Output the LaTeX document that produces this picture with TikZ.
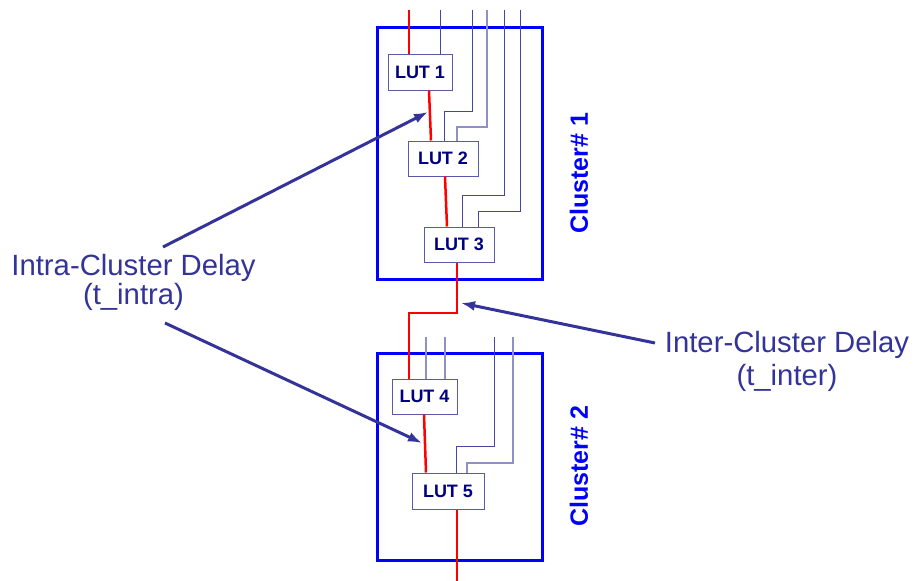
\documentclass[tikz,border=0pt]{standalone}
\usepackage{fontspec}
\setmainfont{Liberation Sans}
\usetikzlibrary{arrows.meta}
\definecolor{navytext}{HTML}{333399}
\definecolor{lutnavy}{HTML}{000080}
\definecolor{lutborder}{HTML}{5A5AA8}
\definecolor{wirec}{HTML}{4646A0}
\definecolor{wirelight}{HTML}{9090C4}
\definecolor{clblue}{HTML}{0000FF}
\tikzset{
  lut/.style={draw=lutborder, line width=1pt, fill=white, inner sep=0pt,
    font=\fontsize{18}{21}\selectfont\bfseries, text=lutnavy},
  clbox/.style={draw=clblue, line width=3pt, inner sep=0pt},
  cllabel/.style={rotate=90, text=clblue, inner sep=0pt,
    font=\fontsize{25}{30}\selectfont\bfseries},
  sig/.style={draw=red, line width=2.5pt},
  wire/.style={draw=wirec, line width=1pt},
  wirel/.style={draw=wirelight, line width=1.2pt},
  callout/.style={draw=navytext, line width=3pt,
    -{Latex[length=14pt,width=10pt]}},
  lbl/.style={text=navytext, inner sep=0pt, anchor=base,
    font=\fontsize{29.3}{35}\selectfont}
}
\begin{document}
\begin{tikzpicture}[x=1pt,y=-1pt]
\useasboundingbox (0,0) rectangle (914,581);
% cluster boxes
\node[clbox, minimum width=165pt, minimum height=252pt] (cl1) at (459.5,153) {};
\node[clbox, minimum width=165pt, minimum height=207pt] (cl2) at (459.5,456.5) {};
\node[cllabel] (cl1l) at (579,173.5) {Cluster\# 1};
\node[cllabel] (cl2l) at (579,466.5) {Cluster\# 2};
% LUTs
\node[lut, minimum width=64pt, minimum height=36pt] (LUT1) at (420,72) {LUT 1};
\node[lut, minimum width=70pt, minimum height=35pt] (LUT2) at (443,158.5) {LUT 2};
\node[lut, minimum width=70pt, minimum height=35pt] (LUT3) at (459,244.5) {LUT 3};
\node[lut, minimum width=65pt, minimum height=35pt] (LUT4) at (424.5,396.5) {LUT 4};
\node[lut, minimum width=72pt, minimum height=36pt] (LUT5) at (448,491) {LUT 5};
% top wire ends
\coordinate (r0) at (409,10);
\coordinate (a1) at (440,10);
\coordinate (a2) at (472,10);
\coordinate (a3) at (487,10);
\coordinate (a4) at (504,10);
\coordinate (a5) at (520,10);
\coordinate (b1) at (426,337);
\coordinate (b2) at (445,337);
\coordinate (b3) at (494,337);
\coordinate (b4) at (513,337);
\coordinate (rend) at (457,581);
% wires cluster 1
\draw[wire] (a1) -- ([xshift=20pt]LUT1.north);
\draw[wire] ([xshift=1pt]LUT2.north) |- (472,111) -- (a2);
\draw[wirel] ([xshift=14pt]LUT2.north) |- (487,127) -- (a3);
\draw[wire] ([xshift=3pt]LUT3.north) |- (504,195) -- (a4);
\draw[wire] ([xshift=19pt]LUT3.north) |- (520,211) -- (a5);
% wires cluster 2
\draw[wirel] (b1) -- ([xshift=1.5pt]LUT4.north);
\draw[wirel] (b2) -- ([xshift=20.5pt]LUT4.north);
\draw[wire] ([xshift=8pt]LUT5.north) |- (494,446) -- (b3);
\draw[wirel] ([xshift=19pt]LUT5.north) |- (513,463) -- (b4);
% red critical path
\draw[sig] (r0) -- ([xshift=-11pt]LUT1.north);
\draw[sig] ([xshift=9pt]LUT1.south) -- ([xshift=-12pt]LUT2.north);
\draw[sig] ([xshift=2pt]LUT2.south) -- ([xshift=-12pt]LUT3.north);
\draw[sig] ([xshift=-2pt]LUT3.south) |- (409,313) -- ([xshift=-15.5pt]LUT4.north);
\draw[sig] ([xshift=-0.5pt]LUT4.south) -- ([xshift=-22pt]LUT5.north);
\draw[sig] ([xshift=9pt]LUT5.south) -- (rend);
% labels
\node[lbl] (intra) at (133.5,275) {Intra-Cluster Delay};
\node[lbl] (intra2) at (133.5,304) {(t\_intra)};
\node[lbl] (inter) at (787,352) {Inter-Cluster Delay};
\node[lbl] (inter2) at (787,385) {(t\_inter)};
% callout arrows
\coordinate (s1) at (163,247);
\coordinate (t1) at (428,112);
\coordinate (s2) at (165,323);
\coordinate (t2) at (422,443);
\coordinate (s3) at (655,343);
\coordinate (t3) at (461,303);
\draw[callout] (s1) -- (t1);
\draw[callout] (s2) -- (t2);
\draw[callout] (s3) -- (t3);
\end{tikzpicture}
\end{document}
